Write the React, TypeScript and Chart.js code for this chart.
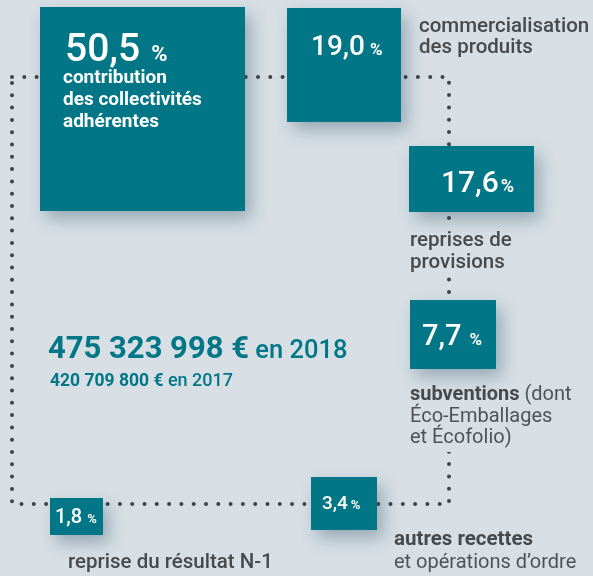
import React, { useEffect, useRef } from 'react';
import { Chart, registerables } from 'chart.js';

Chart.register(...registerables);

// ---------- data ----------
const categories = [
  'contribution des collectivités adhérentes',
  'commercialisation des produits',
  'reprises de provisions',
  'subventions (dont Éco-Emballages et Écofolio)',
  'autres recettes et opérations d’ordre',
  'reprise du résultat N-1',
];
const shares = [50.5, 19.0, 17.6, 7.7, 3.4, 1.8];
const labelLines = [
  [['contribution'], ['des collectivités'], ['adhérentes']],
  [['commercialisation'], ['des produits']],
  [['reprises de'], ['provisions']],
  [['subventions', ' (dont'], ['Éco-Emballages'], ['et Écofolio)']],
  [['autres recettes'], ['et opérations d’ordre']],
  [['reprise du résultat N-1']],
];
const totalYears = ['2018', '2017'];
const totals = [475323998, 420709800];

// ---------- layout / style ----------
const W = 593;
const H = 576;
const BG = '#d7dfe5';
const TEAL = '#007686';
const GREY = '#47494b';
const GREY_LIGHT = '#505356';
const DOT = '#3f4346';
const FONT = 'Roboto';

const framePath = [
  { x: 12, y: 77 },
  { x: 449, y: 77 },
  { x: 449, y: 504 },
  { x: 12, y: 504 },
  { x: 12, y: 77 },
];

type BoxLayout = {
  rect: [number, number, number, number];
  vx: number; vy: number; vSize: number; pSize: number; gap: number;
  lx: number; lBase: number; lStep: number; inside: boolean;
  fonts: string[][];
  cover?: [number, number, number, number];
};

const B = (s: number) => `700 ${s}px ${FONT}`;
const M = (s: number) => `500 ${s}px ${FONT}`;
const R = (s: number) => `400 ${s}px ${FONT}`;

const boxLayout: BoxLayout[] = [
  { rect: [40, 7, 245, 211], vx: 65, vy: 61, vSize: 39, pSize: 22, gap: 11, lx: 63, lBase: 83, lStep: 22, inside: true,
    fonts: [[B(19)], [B(19)], [B(19)]] },
  { rect: [287, 8, 401, 122], vx: 311, vy: 55, vSize: 28, pSize: 17, gap: 5, lx: 419, lBase: 32, lStep: 21, inside: false,
    fonts: [[M(20.5)], [M(20.5)]] },
  { rect: [409, 146, 534, 212], vx: 441, vy: 192, vSize: 30, pSize: 18, gap: 2, lx: 410, lBase: 246, lStep: 22, inside: false,
    fonts: [[M(20.5)], [M(20.5)]], cover: [440, 227, 460, 272] },
  { rect: [410, 300, 496, 369], vx: 422, vy: 345, vSize: 29, pSize: 17, gap: 8, lx: 410, lBase: 400, lStep: 21.5, inside: false,
    fonts: [[B(20), R(20)], [R(20)], [R(20)]], cover: [440, 376, 460, 452] },
  { rect: [311, 477, 377, 530], vx: 322, vy: 509, vSize: 19, pSize: 13, gap: 3, lx: 394, lBase: 545, lStep: 23, inside: false,
    fonts: [[B(20.5)], [R(20)]] },
  { rect: [50, 498, 103, 535], vx: 55, vy: 523, vSize: 20, pSize: 13, gap: 5, lx: 68, lBase: 568, lStep: 22, inside: false,
    fonts: [[M(20.5)]] },
];

const totalLayout = [
  { x: 48, y: 358, big: B(31), small: M(25.5) },
  { x: 50, y: 386, big: B(17.5), small: M(18) },
];

const fmtPct = (v: number) => v.toFixed(1).replace('.', ',');
const fmtEur = (v: number) => String(v).replace(/\B(?=(\d{3})+(?!\d))/g, ' ') + ' €';

const boxesPlugin = {
  id: 'boxes',
  beforeDraw(chart: any) {
    const ctx = chart.ctx;
    ctx.save();
    ctx.fillStyle = BG;
    ctx.fillRect(0, 0, chart.width, chart.height);
    ctx.restore();
  },
  afterDatasetsDraw(chart: any) {
    const ctx: CanvasRenderingContext2D = chart.ctx;
    const xs = chart.scales.x;
    const ys = chart.scales.y;
    const px = (v: number) => xs.getPixelForValue(v);
    const py = (v: number) => ys.getPixelForValue(v);
    ctx.save();
    ctx.textBaseline = 'alphabetic';
    ctx.textAlign = 'left';

    // covers hiding the dotted frame behind labels
    boxLayout.forEach((b) => {
      if (!b.cover) return;
      ctx.fillStyle = BG;
      ctx.fillRect(px(b.cover[0]), py(b.cover[1]), px(b.cover[2]) - px(b.cover[0]), py(b.cover[3]) - py(b.cover[1]));
    });

    shares.forEach((v, i) => {
      const b = boxLayout[i];
      const [x0, y0, x1, y1] = b.rect;
      // box with soft shadow
      ctx.save();
      ctx.shadowColor = 'rgba(20,60,80,0.32)';
      ctx.shadowBlur = 16;
      ctx.shadowOffsetX = 6;
      ctx.shadowOffsetY = 8;
      ctx.fillStyle = TEAL;
      ctx.fillRect(px(x0), py(y0), px(x1) - px(x0), py(y1) - py(y0));
      ctx.restore();

      // value
      ctx.fillStyle = '#ffffff';
      ctx.font = M(b.vSize);
      const vs = fmtPct(v);
      ctx.fillText(vs, px(b.vx), py(b.vy));
      const w = ctx.measureText(vs).width;
      ctx.font = B(b.pSize);
      ctx.fillText('%', px(b.vx) + w + b.gap, py(b.vy));

      // label
      labelLines[i].forEach((line, li) => {
        let x = px(b.lx);
        const y = py(b.lBase + li * b.lStep);
        line.forEach((seg, si) => {
          const font = b.fonts[li][si];
          ctx.font = font;
          ctx.fillStyle = b.inside ? '#ffffff' : font.startsWith('400') ? GREY_LIGHT : GREY;
          ctx.fillText(seg, x, y);
          x += ctx.measureText(seg).width;
        });
      });
    });

    // totals
    totals.forEach((t, i) => {
      const l = totalLayout[i];
      ctx.fillStyle = TEAL;
      ctx.font = l.big;
      const s = fmtEur(t);
      ctx.fillText(s, px(l.x), py(l.y));
      const w = ctx.measureText(s).width;
      ctx.font = l.small;
      ctx.fillText(' en ' + totalYears[i], px(l.x) + w, py(l.y));
    });
    ctx.restore();
  },
};

export default function App() {
  const ref = useRef<HTMLCanvasElement | null>(null);
  useEffect(() => {
    document.body.style.margin = '0';
    document.body.style.background = BG;
    const canvas = ref.current;
    if (!canvas) return;
    const chart = new Chart(canvas, {
      type: 'line',
      data: {
        datasets: [
          {
            label: categories.join(' / '),
            data: framePath,
            borderColor: DOT,
            borderWidth: 4,
            borderDash: [0, 12.3],
            borderCapStyle: 'round',
            pointRadius: 0,
            tension: 0,
            fill: false,
          } as any,
        ],
      },
      options: {
        responsive: false,
        maintainAspectRatio: false,
        animation: false,
        layout: { padding: 0 },
        scales: {
          x: { type: 'linear', min: 0, max: W, display: false },
          y: { type: 'linear', min: 0, max: H, reverse: true, display: false },
        },
        plugins: { legend: { display: false }, tooltip: { enabled: false } },
        events: [],
      },
      plugins: [boxesPlugin],
    });
    return () => chart.destroy();
  }, []);
  return (
    <div style={{ width: W, height: H }}>
      <canvas ref={ref} width={W} height={H} style={{ display: 'block', width: W, height: H }} />
    </div>
  );
}
